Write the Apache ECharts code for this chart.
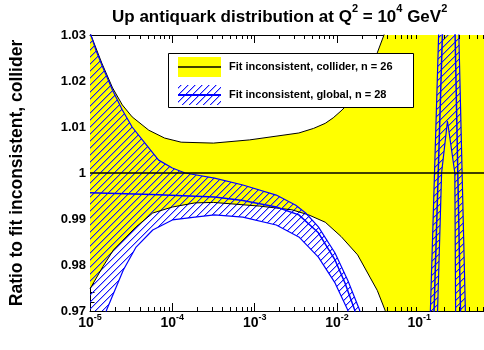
<!DOCTYPE html>
<html><head><meta charset="utf-8">
<script src="https://cdn.jsdelivr.net/npm/echarts@6/dist/echarts.min.js"></script>
<style>html,body{margin:0;padding:0;background:#fff}#c{width:484px;height:350px}</style>
</head><body><div id="c"></div>
<script>
// ---- data (x, ratio) ----
const xMin = 1e-5, xMax = 0.61;
const yMin = 0.97, yMax = 1.03;
const yTickValues = [0.97, 0.98, 0.99, 1.00, 1.01, 1.02, 1.03];
const xTickValues = [1e-5, 1e-4, 1e-3, 1e-2, 1e-1];

const colliderCentral = [[1e-5, 1.0], [0.61, 1.0]];
const colliderUpper = [[1.0e-5,1.0305],[1.39e-5,1.0239],[1.88e-5,1.0185],[2.47e-5,1.0148],[3.25e-5,1.0122],[5.18e-5,1.0093],[8.04e-5,1.0076],[1.28e-4,1.0067],[3.16e-4,1.0065],[8.7e-4,1.0072],[3.44e-3,1.0087],[5.2e-3,1.0097],[7.2e-3,1.0108],[9.0e-3,1.0120],[1.12e-2,1.0135],[1.4e-2,1.0152],[1.9e-2,1.0195],[3.08e-2,1.0261],[3.72e-2,1.0300],[5.0e-2,1.0380],[0.126,1.06],[0.61,1.06]];
const colliderLower = [[1.0e-5,0.9748],[1.43e-5,0.9796],[1.93e-5,0.9833],[3.63e-5,0.9883],[5.78e-5,0.9913],[1.0e-4,0.9926],[1.88e-4,0.9935],[3.16e-4,0.9936],[1.15e-3,0.9928],[2.83e-3,0.9920],[4.52e-3,0.9909],[7.2e-3,0.9893],[1.12e-2,0.9862],[1.78e-2,0.9822],[2.54e-2,0.9772],[3.08e-2,0.9745],[3.83e-2,0.9702],[5.0e-2,0.962],[0.126,0.94],[0.61,0.94]];

const globalUpper = [[1.0e-5,1.0306],[1.18e-5,1.0267],[1.43e-5,1.0230],[1.88e-5,1.0180],[2.47e-5,1.0137],[3.25e-5,1.0100],[4.65e-5,1.0065],[6.81e-5,1.0028],[1.0e-4,1.0011],[1.43e-4,1.0000],[3.25e-4,0.9989],[7.19e-4,0.9974],[1.83e-3,0.9952],[3.16e-3,0.9930],[4.16e-3,0.9913],[5.94e-3,0.9883],[9.46e-3,0.9826],[1.35e-2,0.9767],[1.88e-2,0.9702],[2.51e-2,0.955],[6.3e-2,0.93],[0.112,0.93],[0.1215,0.94],[0.1362,0.97],[0.1715,1.03],[0.1925,1.06],[0.2758,1.06],[0.3018,1.03],[0.3625,0.97],[0.3795,0.95],[0.61,0.93]];
const globalCentral = [[1.0e-5,0.9957],[5.6e-5,0.9953],[3.25e-4,0.9948],[7.19e-4,0.9940],[1.83e-3,0.9926],[3.44e-3,0.9909],[5.94e-3,0.9870],[9.46e-3,0.9811],[1.25e-2,0.9761],[1.64e-2,0.9702],[2.0e-2,0.955],[6.3e-2,0.93],[0.118,0.93],[0.134,0.94],[0.1509,0.97],[0.1905,1.03],[0.2139,1.06],[0.2523,1.06],[0.2719,1.03],[0.3162,0.97],[0.341,0.94],[0.61,0.93]];
const globalLower = [[1.0e-5,0.959],[1.59e-5,0.9702],[2.54e-5,0.9789],[3.63e-5,0.9839],[5.78e-5,0.9876],[1.0e-4,0.9898],[1.88e-4,0.9904],[3.25e-4,0.9909],[7.19e-4,0.9904],[1.83e-3,0.9887],[3.44e-3,0.9861],[5.94e-3,0.9817],[9.46e-3,0.9761],[1.35e-2,0.9702],[1.585e-2,0.962],[6.3e-2,0.93],[0.125,0.93],[0.149,0.94],[0.1665,0.97],[0.1863,1.0],[0.2196,1.0113],[0.2698,1.0],[0.2758,0.97],[0.282,0.94],[0.61,0.93]];

const legendLabels = ['Fit inconsistent, collider, n = 26', 'Fit inconsistent, global, n = 28'];
const titleText = '{m|Up antiquark distribution at Q}{s|2}{m| = 10}{s|4}{m| GeV}{s|2}';
const yAxisTitle = 'Ratio to fit inconsistent, collider';

// ---- styling ----
const FONT = '"Liberation Sans", Arial, Helvetica, sans-serif';
const YELLOW = '#ffff00', BLUE = '#0000ff';

// log-x axis is drawn as a linear axis over log10(x)
const lg = Math.log10;
const toLog = arr => arr.map(p => [lg(p[0]), p[1]]);

function makeHatch() {
  const s = 7;
  const c = document.createElement('canvas');
  c.width = s; c.height = s;
  const g = c.getContext('2d');
  const img = g.createImageData(s, s);
  function put(x, y, a) {
    const o = (y * s + x) * 4;
    img.data[o] = 20; img.data[o + 1] = 20; img.data[o + 2] = 255; img.data[o + 3] = a;
  }
  for (let i = 0; i < s; i++) {
    const j = s - 1 - i;
    put(i, j, 255);
    put((i + 1) % s, j, 90);
  }
  g.putImageData(img, 0, 0);
  return c;
}
const hatch = { image: makeHatch(), repeat: 'repeat' };

function bandSeries(upper, lower, fill, z) {
  const up = toLog(upper), lo = toLog(lower).reverse();
  return {
    type: 'custom', coordinateSystem: 'cartesian2d', clip: true, silent: true, z: z,
    data: [up[0]],
    renderItem: function (params, api) {
      const pts = up.map(p => api.coord(p)).concat(lo.map(p => api.coord(p)));
      return { type: 'polygon', shape: { points: pts }, style: { fill: fill, stroke: null } };
    }
  };
}
function lineSeries(data, color, width, z) {
  return { type: 'line', data: toLog(data), symbol: 'none', showSymbol: false, silent: true, z: z,
    lineStyle: { color: color, width: width }, clip: true, animation: false };
}

const minorTickSeries = {
  type: 'custom', coordinateSystem: 'cartesian2d', silent: true, clip: false, z: 20,
  data: [[-3, 1]],
  renderItem: function (params, api) {
    const children = [];
    for (let e = -5; e <= -1; e++) {
      for (let k = 2; k <= 9; k++) {
        const v = k * Math.pow(10, e);
        if (v > xMax) break;
        const b = api.coord([lg(v), yMin]);
        const t = api.coord([lg(v), yMax]);
        const x = Math.round(b[0]) + 0.5;
        children.push({ type: 'line', shape: { x1: x, y1: b[1], x2: x, y2: b[1] - 4 }, style: { stroke: '#000', lineWidth: 1 } });
        children.push({ type: 'line', shape: { x1: x, y1: t[1], x2: x, y2: t[1] + 4 }, style: { stroke: '#000', lineWidth: 1 } });
      }
    }
    return { type: 'group', children: children };
  }
};

function xLabel(v) {
  const e = Math.round(v);
  if (Math.abs(v - e) > 1e-6) return '';
  return '{b|10}{s|' + e + '}';
}

const chart = echarts.init(document.getElementById('c'), null, { renderer: 'canvas' });
const common = { color: '#000', fontFamily: FONT, fontWeight: 'bold' };
const xAxisBase = {
  type: 'value', min: lg(xMin), max: lg(xMax), interval: 1,
  axisLine: { show: true, lineStyle: { color: '#000', width: 1 } },
  axisTick: { show: true, inside: true, length: 8, lineStyle: { color: '#000', width: 1 } },
  minorTick: { show: false }, splitLine: { show: false }
};
chart.setOption({
  animation: false,
  backgroundColor: '#fff',
  title: {
    text: titleText, left: 107, top: 4,
    textStyle: {
      rich: {
        m: Object.assign({ fontSize: 17, lineHeight: 17, verticalAlign: 'bottom' }, common),
        s: Object.assign({ fontSize: 11, lineHeight: 11, padding: [0, 0, 12, 0], verticalAlign: 'bottom' }, common)
      }
    }
  },
  grid: { left: 87, top: 35, width: 402, height: 276, containLabel: false },
  xAxis: [Object.assign({}, xAxisBase, {
    position: 'bottom',
    axisLabel: {
      margin: 5, formatter: xLabel, showMaxLabel: false,
      rich: {
        b: Object.assign({ fontSize: 14, lineHeight: 14, verticalAlign: 'bottom' }, common),
        s: Object.assign({ fontSize: 9, lineHeight: 9, padding: [0, 0, 8, 0], verticalAlign: 'bottom' }, common)
      }
    }
  }), Object.assign({}, xAxisBase, { position: 'top', axisLabel: { show: false } })],
  yAxis: [{
    type: 'value', min: yMin, max: yMax, interval: 0.01, position: 'left',
    axisLine: { show: true, lineStyle: { color: '#000', width: 1 } },
    axisTick: { show: true, inside: true, length: 9, lineStyle: { color: '#000', width: 1 } },
    minorTick: { show: true, splitNumber: 5, length: 4.5, lineStyle: { color: '#000', width: 1 } },
    splitLine: { show: false },
    axisLabel: Object.assign({ fontSize: 13, margin: 4, formatter: v => String(parseFloat(v.toFixed(2))) }, common),
    name: yAxisTitle, nameLocation: 'middle', nameGap: 64, nameRotate: 90,
    nameTextStyle: Object.assign({ fontSize: 17.5 }, common)
  }, {
    type: 'value', min: yMin, max: yMax, interval: 0.01, position: 'right',
    axisLine: { show: true, lineStyle: { color: '#000', width: 1 } },
    axisTick: { show: true, inside: true, length: 9, lineStyle: { color: '#000', width: 1 } },
    minorTick: { show: true, splitNumber: 5, length: 4.5, lineStyle: { color: '#000', width: 1 } },
    splitLine: { show: false }, axisLabel: { show: false }
  }],
  series: [
    bandSeries(colliderUpper, colliderLower, YELLOW, 1),
    bandSeries(globalUpper, globalLower, hatch, 2),
    lineSeries(colliderUpper, '#000', 1, 3),
    lineSeries(colliderLower, '#000', 1, 3),
    lineSeries(globalUpper, BLUE, 1.2, 4),
    lineSeries(globalLower, BLUE, 1.2, 4),
    lineSeries(globalCentral, BLUE, 1.5, 4),
    lineSeries(colliderCentral, '#000', 1.5, 5),
    minorTickSeries
  ],
  graphic: [
    { type: 'rect', z: 100, shape: { x: 168.5, y: 53.5, width: 245, height: 54 }, style: { fill: '#fff', stroke: '#000', lineWidth: 1 } },
    { type: 'rect', z: 101, shape: { x: 178, y: 57, width: 43, height: 20 }, style: { fill: YELLOW } },
    { type: 'line', z: 102, shape: { x1: 178, y1: 67, x2: 221, y2: 67 }, style: { stroke: '#000', lineWidth: 1.5 } },
    { type: 'rect', z: 101, shape: { x: 178, y: 85, width: 43, height: 20 }, style: { fill: hatch } },
    { type: 'line', z: 102, shape: { x1: 178, y1: 95, x2: 221, y2: 95 }, style: { stroke: BLUE, lineWidth: 2 } },
    { type: 'text', z: 102, x: 229, y: 67, style: { text: legendLabels[0], font: 'bold 11px ' + FONT, fill: '#000', verticalAlign: 'middle' } },
    { type: 'text', z: 102, x: 229, y: 95, style: { text: legendLabels[1], font: 'bold 11px ' + FONT, fill: '#000', verticalAlign: 'middle' } }
  ]
});
</script>
</body></html>
